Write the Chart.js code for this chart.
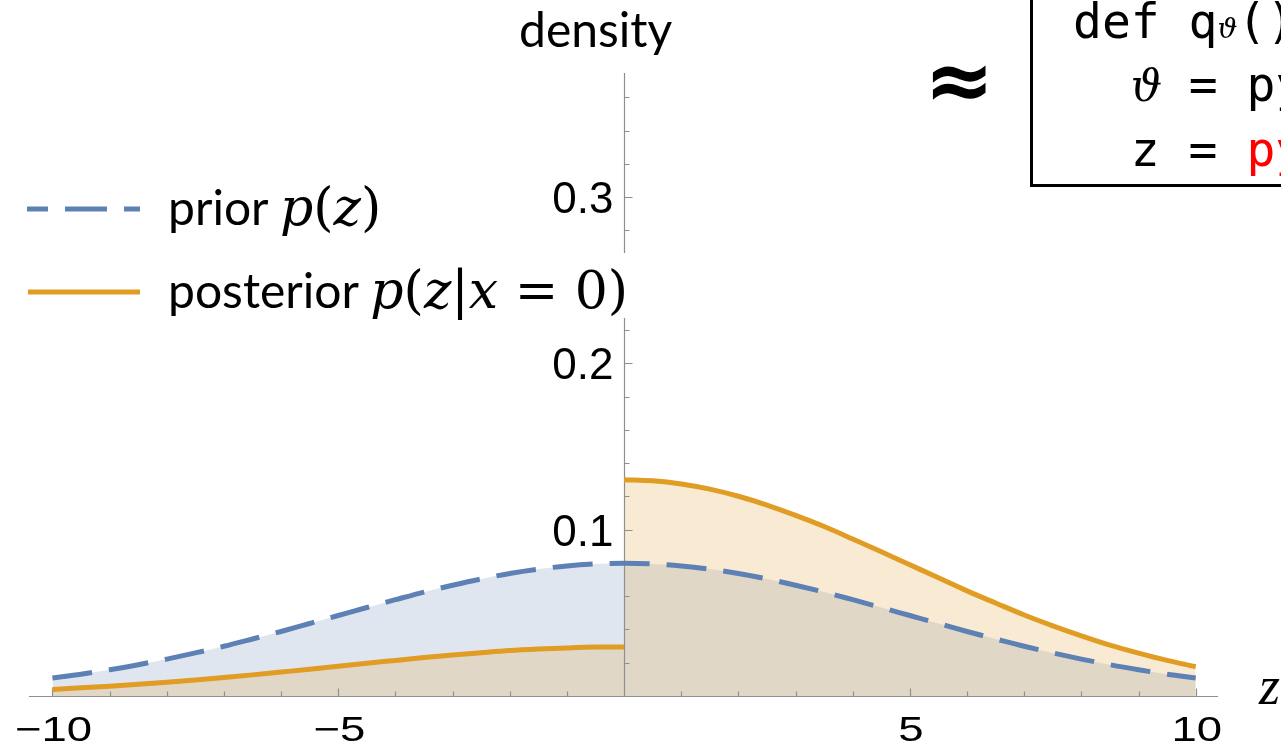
<!DOCTYPE html>
<html>
<head>
<meta charset="utf-8">
<script src="https://cdn.jsdelivr.net/npm/chart.js@4/dist/chart.umd.min.js"></script>
<style>
  html, body { margin: 0; padding: 0; background: #fff; overflow: hidden; }
  #wrap { position: relative; width: 1281px; height: 751px; }
  #wrap canvas { position: absolute; left: 0; top: 0; }
  .txt { position: absolute; white-space: pre; color: #000; line-height: 1; }
  .sans { font-family: Lato, 'Open Sans', sans-serif; }
  .mi { font-family: 'DejaVu Serif', serif; font-style: italic; font-size: 52px; }
  .mu { font-family: 'DejaVu Serif', serif; font-size: 52px; }
  .mono { font-family: 'DejaVu Sans Mono', monospace; }
</style>
</head>
<body>
<div id="wrap">
  <canvas id="densityChart" width="1281" height="751"></canvas>

  <div class="txt sans" style="left:519px; top:5px; font-size:48px;">density</div>

  <svg style="position:absolute; left:0; top:199px;" width="150" height="20">
    <line x1="27" y1="10" x2="140" y2="10" stroke="#5E81B5" stroke-width="5" stroke-dasharray="42 17" stroke-dashoffset="21" />
  </svg>
  <div class="txt sans" style="left:168px; top:181px; font-size:48px;">prior <span class="mi">p</span><span class="mu">(</span><span class="mi">z</span><span class="mu">)</span></div>

  <div style="position:absolute; left:160px; top:253px; width:470px; height:65px; background:#fff;"></div>
  <svg style="position:absolute; left:0; top:282px;" width="150" height="20">
    <line x1="28" y1="10" x2="140" y2="10" stroke="#E19C24" stroke-width="5" />
  </svg>
  <div class="txt sans" style="left:168px; top:264px; font-size:48px;">posterior <span class="mi">p</span><span class="mu">(</span><span class="mi">z</span><span class="mu">|</span><span class="mi">x</span><span class="mu"> = 0)</span></div>

  <div class="txt" style="left:924px; top:38px; font-size:84px; font-weight:bold; font-family:'DejaVu Sans', sans-serif;">≈</div>

  <div style="position:absolute; left:1030px; top:-10px; width:400px; height:197px; border:3px solid #000; box-sizing:border-box;"></div>
  <div class="txt mono" style="left:1073px; top:-3px; font-size:48px;">def q<span class="mi" style="font-size:28px;">ϑ</span>()</div>
  <div class="txt mono" style="left:1073px; top:60px; font-size:48px;">  <span class="mi" style="font-size:44px; display:inline-block; width:29px;">ϑ</span> = py</div>
  <div class="txt mono" style="left:1073px; top:125px; font-size:48px;">  z = <span style="color:#ff0000;">py</span></div>

  <div class="txt" style="left:1259px; top:659px; font-size:54px; font-style:italic; font-family:'Liberation Serif', serif;">z</div>
</div>

<script>
// values
const zGrid = [-10, -9.5, -9, -8.5, -8, -7.5, -7, -6.5, -6, -5.5, -5, -4.5, -4, -3.5, -3, -2.5, -2, -1.5, -1, -0.5, 0,
  0.5, 1, 1.5, 2, 2.5, 3, 3.5, 4, 4.5, 5, 5.5, 6, 6.5, 7, 7.5, 8, 8.5, 9, 9.5, 10]
const priorDensity = [0.0108, 0.0131, 0.0158, 0.0188, 0.0222, 0.0259, 0.0299, 0.0343, 0.0388, 0.0436, 0.0484,
  0.0532, 0.0579, 0.0625, 0.0666, 0.0704, 0.0737, 0.0763, 0.0782, 0.0794, 0.0798,
  0.0794, 0.0782, 0.0763, 0.0737, 0.0704, 0.0666, 0.0625, 0.0579, 0.0532, 0.0484,
  0.0436, 0.0388, 0.0343, 0.0299, 0.0259, 0.0222, 0.0188, 0.0158, 0.0131, 0.0108]
// posterior, z from -10 to 0
const posteriorLeft = [0.0039, 0.0049, 0.0059, 0.0070, 0.0082, 0.0096, 0.0111, 0.0127, 0.0144, 0.0161, 0.0179,
  0.0197, 0.0214, 0.0231, 0.0246, 0.0260, 0.0273, 0.0282, 0.0289, 0.0294, 0.0295]
// posterior, z from 0 to 10
const posteriorRight = [0.1301, 0.1294, 0.1275, 0.1244, 0.1201, 0.1148, 0.1086, 0.1019, 0.0944, 0.0867, 0.0789,
  0.0711, 0.0632, 0.0559, 0.0487, 0.0422, 0.0362, 0.0306, 0.0258, 0.0214, 0.0176]

const xTickValues = [-10, -5, 5, 10]
const xTickLabels = ['\u221210', '\u22125', '5', '10']
const yTickValues = [0.1, 0.2, 0.3]
const yTickLabels = ['0.1', '0.2', '0.3']

const blue = '#5E81B5'
const orange = '#E19C24'

const toPoints = (xs, ys) => ys.map((y, i) => ({ x: xs[i], y: y }))

const axesPlugin = {
  id: 'axesAtOrigin',
  beforeDatasetsDraw (chart) {
    const { ctx, chartArea, scales: { x, y } } = chart
    const x0 = Math.round(x.getPixelForValue(0)) + 0.5
    const y0 = Math.round(y.getPixelForValue(0)) + 0.5
    ctx.save()
    ctx.strokeStyle = '#8f8f8f'
    ctx.lineWidth = 1.2
    ctx.beginPath()
    ctx.moveTo(chartArea.left, y0)
    ctx.lineTo(chartArea.right, y0)
    ctx.moveTo(x0, chartArea.top)
    ctx.lineTo(x0, chartArea.bottom)
    // x ticks, every 1, major every 5
    for (let v = -10; v <= 10; v++) {
      if (v === 0) continue
      const px = Math.round(x.getPixelForValue(v)) + 0.5
      const len = v % 5 === 0 ? 8 : 5
      ctx.moveTo(px, y0)
      ctx.lineTo(px, y0 - len)
    }
    // y ticks, every 0.02, major every 0.1
    for (let k = 1; k <= 18; k++) {
      const py = Math.round(y.getPixelForValue(k * 0.02)) + 0.5
      const len = k % 5 === 0 ? 8 : 5
      ctx.moveTo(x0, py)
      ctx.lineTo(x0 + len, py)
    }
    ctx.stroke()

    ctx.fillStyle = '#000'
    ctx.textBaseline = 'alphabetic'
    ctx.textAlign = 'center'
    ctx.font = "35px 'Liberation Sans', Arial, sans-serif"
    xTickValues.forEach((v, i) => {
      const px = x.getPixelForValue(v)
      ctx.save()
      ctx.translate(px + 1, 741)
      ctx.scale(1.3, 1)
      ctx.fillText(xTickLabels[i], 0, 0)
      ctx.restore()
    })
    ctx.textAlign = 'right'
    ctx.font = "44px 'Liberation Sans', Arial, sans-serif"
    yTickValues.forEach((v, i) => {
      const py = y.getPixelForValue(v)
      ctx.fillText(yTickLabels[i], x0 - 11, py + 16)
    })
    ctx.restore()
  }
}

const data = {
  datasets: [
    {
      label: 'posterior z<0',
      data: toPoints(zGrid.slice(0, 21), posteriorLeft),
      borderColor: orange,
      backgroundColor: 'rgba(225, 156, 36, 0.2)',
      borderWidth: 5,
      fill: 'origin'
    },
    {
      label: 'posterior z>0',
      data: toPoints(zGrid.slice(20), posteriorRight),
      borderColor: orange,
      backgroundColor: 'rgba(225, 156, 36, 0.2)',
      borderWidth: 5,
      fill: 'origin'
    },
    {
      label: 'prior',
      data: toPoints(zGrid, priorDensity),
      borderColor: blue,
      backgroundColor: 'rgba(94, 129, 181, 0.2)',
      borderWidth: 5,
      borderDash: [40, 17],
      fill: 'origin'
    }
  ]
}

new Chart(document.getElementById('densityChart'), {
  type: 'line',
  data: data,
  options: {
    responsive: false,
    animation: false,
    layout: { padding: { left: 29, right: 63, top: 73, bottom: 55 } },
    elements: {
      point: { radius: 0, hoverRadius: 0 },
      line: { cubicInterpolationMode: 'monotone' }
    },
    scales: {
      x: { type: 'linear', min: -10.41, max: 10.39, display: false },
      y: { type: 'linear', min: 0, max: 0.3746, display: false }
    },
    plugins: {
      legend: { display: false },
      tooltip: { enabled: false },
      filler: { drawTime: 'beforeDatasetsDraw' }
    }
  },
  plugins: [axesPlugin]
})
</script>
</body>
</html>
